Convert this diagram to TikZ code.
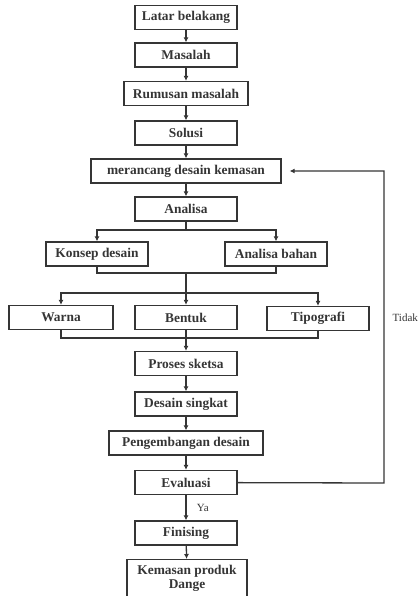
\documentclass[tikz,border=0pt]{standalone}
\usepackage{fontspec}
\setmainfont{Liberation Serif}
\usepackage{tikz}
\usetikzlibrary{arrows.meta}
\definecolor{linegray}{HTML}{353535}
\tikzset{
box/.style={shape=rectangle, draw=linegray, line width=1.3pt, text=linegray, inner sep=0pt, minimum width=102pt, minimum height=24pt, font=\fontsize{13.4}{14}\selectfont\bfseries},
lbl/.style={text=linegray, font=\fontsize{11}{13}\selectfont},
>={Latex[length=5pt,width=5pt]}}

\begin{document}
\begin{tikzpicture}[x=1pt, y=-1pt, line width=1.3pt, draw=linegray]
    \useasboundingbox (0,0) rectangle (419,596);

                \node[box] (A) at (186,17.5) {Latar belakang};
                \node[box] (B) at (186,55) {Masalah};
                \node[box, minimum width=124pt] (C) at (186,93.5) {Rumusan masalah};
                \node[box] (D) at (186,133) {Solusi};
                \node[box, minimum width=190pt] (E) at (186,171) {merancang desain kemasan};
                \node[box] (F) at (186,209) {Analisa};
                \node[box] (G) at (97,254) {Konsep desain};
                \node[box] (H) at (276,254) {Analisa bahan};
                \node[box, minimum width=104pt] (I) at (61,317.5) {Warna};
                \node[box] (J) at (186,317.5) {Bentuk};
                \node[box] (K) at (318,318.5) {Tipografi};
                \node[box] (L) at (186,363.5) {Proses sketsa};
                \node[box] (M) at (186,404) {Desain singkat};
                \node[box, minimum width=154pt] (N) at (186,443) {Pengembangan desain};
                \node[box] (O) at (186,482.5) {Evaluasi};
                \node[box] (P) at (186,533) {Finising};
                \node[box, minimum width=120pt, minimum height=0pt, inner ysep=6pt, align=center, anchor=north] (Q) at (187,559) {Kemasan produk\\Dange};
                \node[lbl, anchor=west, inner sep=0pt] (T) at (392,318) {Tidak};

                \coordinate (s1) at (186,230);
                \coordinate (m1) at (186,273);
                \coordinate (s2) at (186,293);
                \coordinate (m2) at (186,338);
                \coordinate (fb) at (384,483);

                \draw[->] (A) -- (B);
                \draw[->] (B) -- (C);
                \draw[->] (C) -- (D);
                \draw[->] (D) -- (E);
                \draw[->] (E) -- (F);

                \draw (F) -- (s1);
                \draw[->] (s1) -| (G);
                \draw[->] (s1) -| (H);
                \draw (G) |- (m1);
                \draw (H) |- (m1);
                \draw (m1) -- (s2);
                \draw[->] (s2) -| (I);
                \draw[->] (s2) -- (J);
                \draw[->] (s2) -| (K);
                \draw (I) |- (m2);
                \draw (K) |- (m2);
                \draw[->] (J) -- (L);

                \draw[->] (L) -- (M);
                \draw[->] (M) -- (N);
                \draw[->] (N) -- (O);
                \draw[->] (O) -- (P) node[lbl, midway, right=7pt] {Ya};
                \draw[->] (P) -- (Q);
                \draw[->, shorten >=8pt] (O) -- (fb) |- (E);

            \end{tikzpicture}
\end{document}
